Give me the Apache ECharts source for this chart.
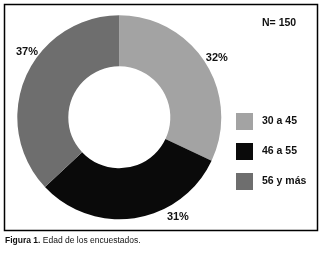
<!DOCTYPE html>
<html><head><meta charset="utf-8">
<script src="https://cdn.jsdelivr.net/npm/echarts@6/dist/echarts.min.js"></script>
<style>html,body{margin:0;padding:0;background:#fff}#c{width:323px;height:258px}</style>
</head><body><div id="c"></div>
<script>
const categories = ['30 a 45', '46 a 55', '56 y más'];
const percentages = [32, 31, 37];
const sampleLabel = 'N= 150';
const caption = ['Figura 1.', ' Edad de los encuestados.'];
const colors = ['#a3a3a3', '#0a0a0a', '#6e6e6e'];
const labelOffsets = [[-8, -3], [26, -5], [21, -23]];
const font = "'Liberation Sans Narrow', 'Liberation Sans', Arial, sans-serif";

const chart = echarts.init(document.getElementById('c'), null, {renderer: 'canvas'});
chart.setOption({
  animation: false,
  color: colors,
  legend: {
    orient: 'vertical', left: 236, top: 113, padding: 0,
    itemWidth: 17, itemHeight: 17, itemGap: 13,
    icon: 'rect',
    data: categories,
    textStyle: {fontFamily: font, fontWeight: 'bold', fontSize: 10.5, color: '#111', padding: [0, 0, 0, 4]}
  },
  graphic: [
    {type: 'rect', shape: {x: 4.5, y: 4.5, width: 313, height: 226}, style: {fill: 'none', stroke: '#000', lineWidth: 1.5}, z: 10},
    {type: 'text', left: 262, top: 18, style: {text: sampleLabel, font: 'bold 10.5px ' + font, fill: '#111'}},
    {type: 'text', left: 5, top: 236, style: {
      text: '{b|' + caption[0] + '}{r|' + caption[1] + '}',
      rich: {b: {fontFamily: font, fontWeight: 'bold', fontSize: 8.5, fill: '#111'},
             r: {fontFamily: font, fontSize: 8.5, fill: '#111'}}
    }}
  ],
  series: [{
    type: 'pie',
    center: [119.3, 117.3],
    radius: [51, 102],
    startAngle: 90,
    clockwise: true,
    avoidLabelOverlap: false,
    label: {
      show: true, position: 'outside', formatter: '{c}%',
      fontFamily: font, fontWeight: 'bold', fontSize: 11, color: '#111'
    },
    labelLine: {show: false, length: 4, length2: 0},
    data: categories.map((n, i) => ({name: n, value: percentages[i], label: {offset: labelOffsets[i]}}))
  }]
});
</script></body></html>
